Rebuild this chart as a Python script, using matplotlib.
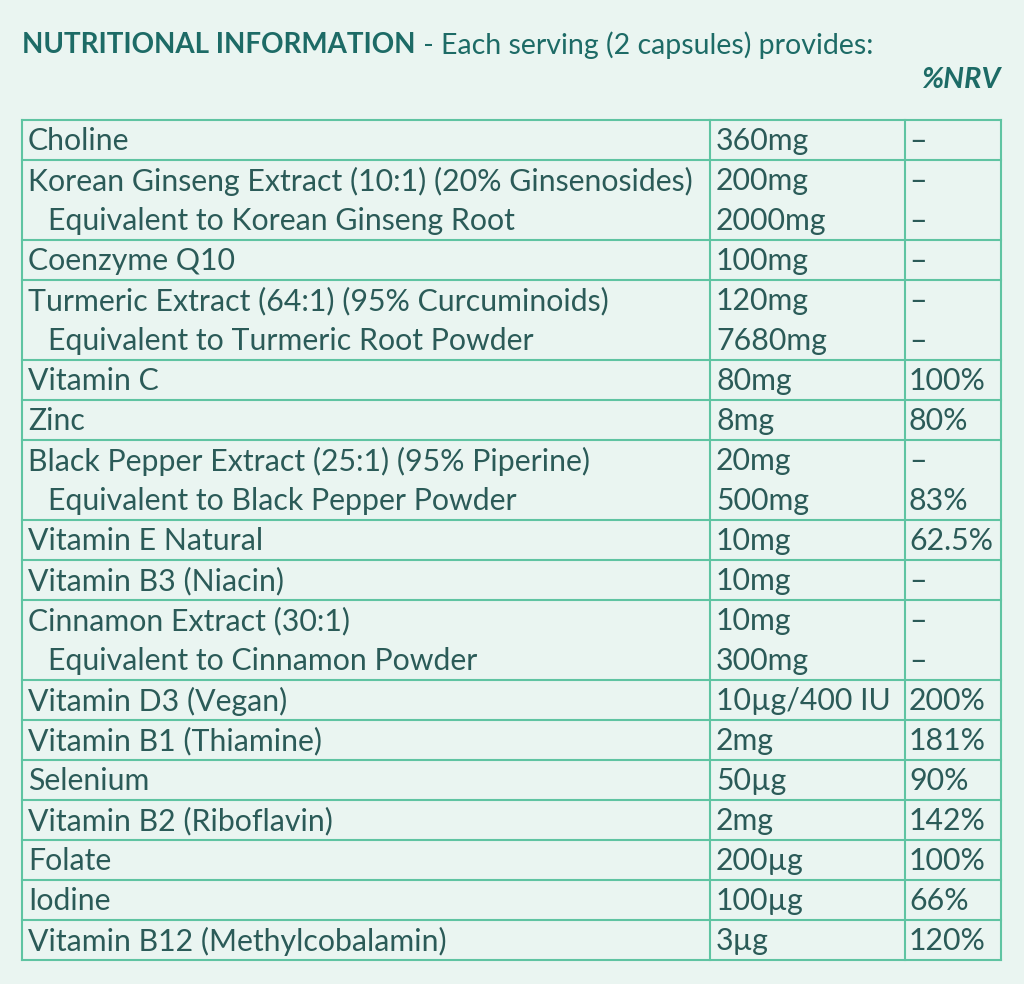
import matplotlib
matplotlib.use("Agg")
import matplotlib.pyplot as plt

nutrients = ["Choline", "Korean Ginseng Extract (10:1) (20% Ginsenosides)",
             "Equivalent to Korean Ginseng Root", "Coenzyme Q10",
             "Turmeric Extract (64:1) (95% Curcuminoids)", "Equivalent to Turmeric Root Powder",
             "Vitamin C", "Zinc", "Black Pepper Extract (25:1) (95% Piperine)",
             "Equivalent to Black Pepper Powder", "Vitamin E Natural", "Vitamin B3 (Niacin)",
             "Cinnamon Extract (30:1)", "Equivalent to Cinnamon Powder", "Vitamin D3 (Vegan)",
             "Vitamin B1 (Thiamine)", "Selenium", "Vitamin B2 (Riboflavin)", "Folate",
             "Iodine", "Vitamin B12 (Methylcobalamin)"]
amounts = ["360mg", "200mg", "2000mg", "100mg", "120mg", "7680mg", "80mg", "8mg", "20mg",
           "500mg", "10mg", "10mg", "10mg", "300mg", "10µg/400 IU", "2mg", "50µg", "2mg",
           "200µg", "100µg", "3µg"]
nrv = ["–", "–", "–", "–", "–", "–", "100%", "80%", "–", "83%", "62.5%", "–", "–", "–",
       "200%", "181%", "90%", "142%", "100%", "66%", "120%"]
sub_row = [n.startswith("Equivalent") for n in nutrients]

bg = "#eaf5f1"
teal = "#1d6b66"
txt = "#2b5b58"
grid = "#5fc4a2"

fig = plt.figure(figsize=(10.24, 9.84), dpi=100, facecolor=bg)
ax = fig.add_axes([0, 0, 1, 1])
ax.set_xlim(0, 1024); ax.set_ylim(984, 0); ax.axis("off")
ax.set_facecolor(bg)

font = "Lato"
t = ax.text(22, 45, "NUTRITIONAL INFORMATION", fontsize=20, fontweight="bold", color=teal,
            family=font, va="center", ha="left")
ax.annotate(" - Each serving (2 capsules) provides:", xy=(1, 0.5), xycoords=t,
            fontsize=20.5, color=teal, family=font, va="center", ha="left")
ax.text(1000, 80, "%NRV", fontsize=21, fontweight="bold", style="italic", color=teal,
        family=font, va="center", ha="right")

x0, x1, x2, x3 = 22, 710, 905, 1001
top, rh = 120, 40
n = len(nutrients)
bottom = top + rh * n
lw = 1.5
for x in (x0, x1, x2, x3):
    ax.plot([x, x], [top, bottom], color=grid, lw=lw)
for i in range(n):
    if not sub_row[i]:
        y = top + rh * i
        ax.plot([x0, x3], [y, y], color=grid, lw=lw)
ax.plot([x0, x3], [bottom, bottom], color=grid, lw=lw)

fs = 21.8
for i in range(n):
    y = top + rh * i + rh / 2 + 1
    ax.text(x0 + 6 + (20 if sub_row[i] else 0), y, nutrients[i], fontsize=fs, color=txt,
            family=font, va="center", ha="left")
    ax.text(x1 + 6, y, amounts[i], fontsize=fs, color=txt, family=font, va="center", ha="left")
    ax.text(x2 + 4, y, nrv[i], fontsize=fs, color=txt, family=font, va="center", ha="left")

fig.savefig("out.png", dpi=100, facecolor=bg)
